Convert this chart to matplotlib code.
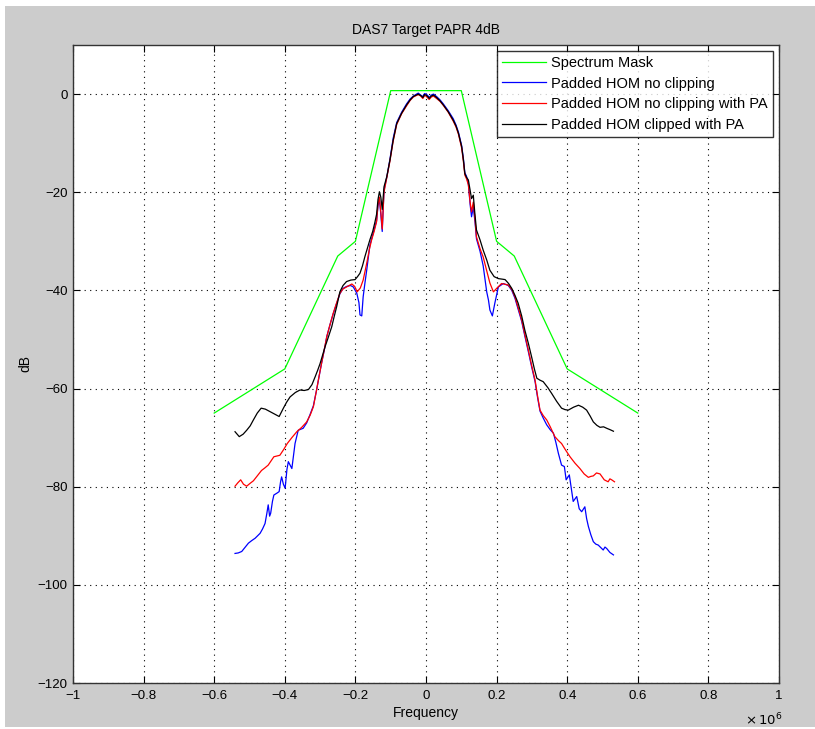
import matplotlib
matplotlib.use("Agg")
import matplotlib.pyplot as plt
from matplotlib.patches import Rectangle
from matplotlib.ticker import FuncFormatter

plt.rcParams['font.family'] = ['Liberation Sans', 'DejaVu Sans']

title = "DAS7 Target PAPR 4dB"
xlabel = "Frequency"
ylabel = "dB"
legend_labels = ["Spectrum Mask", "Padded HOM no clipping",
                 "Padded HOM no clipping with PA", "Padded HOM clipped with PA"]

# frequency in units of 1e6
mask_f = [-0.6, -0.4, -0.25, -0.2, -0.1, 0.1, 0.2, 0.25, 0.4, 0.6]
mask_db = [-65, -56, -33, -30, 0.7, 0.7, -30, -33, -56, -65]

blue_pts = [(-0.541,-93.6),(-0.532,-93.5),(-0.522,-93.2),(-0.512,-92.3),(-0.503,-91.5),(-0.494,-91.0),
 (-0.484,-90.5),(-0.470,-89.5),(-0.463,-88.6),(-0.456,-87.5),(-0.451,-85.5),(-0.447,-83.7),(-0.443,-86.0),
 (-0.440,-85.4),(-0.435,-83.0),(-0.431,-81.7),(-0.422,-81.3),(-0.416,-81.0),(-0.412,-79.0),(-0.409,-78.0),
 (-0.404,-79.5),(-0.399,-80.3),(-0.394,-76.5),(-0.390,-74.9),(-0.385,-75.6),(-0.380,-76.3),(-0.375,-73.5),
 (-0.371,-71.2),(-0.362,-68.5),(-0.348,-68.1),(-0.338,-67.0),(-0.329,-65.4),(-0.319,-63.5),(-0.310,-60.3),
 (-0.303,-57.6),(-0.296,-54.9),(-0.288,-52.1),(-0.281,-49.4),(-0.272,-47.0),(-0.263,-44.8),(-0.253,-42.6),
 (-0.244,-40.7),(-0.235,-39.6),(-0.225,-39.2),(-0.214,-39.0),(-0.206,-39.3),(-0.196,-40.6),(-0.190,-42.5),
 (-0.187,-45.0),(-0.182,-45.2),(-0.178,-41.3),(-0.173,-38.5),(-0.168,-35.9),(-0.159,-30.8),(-0.152,-29.0),
 (-0.146,-27.4),(-0.140,-25.8),(-0.136,-22.8),(-0.132,-21.4),(-0.128,-24.5),(-0.124,-28.0),(-0.119,-19.6),
 (-0.111,-16.9),(-0.102,-13.2),(-0.093,-9.0),(-0.083,-5.8),(-0.069,-3.7),(-0.055,-2.0),(-0.045,-1.0),
 (-0.036,-0.4),(-0.022,0.2),(-0.015,-0.2),(-0.009,-0.5),(-0.004,0.1),(0.0,0.0),(0.005,-0.3),(0.009,-0.7),
 (0.015,-0.2),(0.021,0.0),(0.030,-0.5),(0.040,-1.2),(0.049,-2.0),(0.063,-3.4),(0.077,-5.0),(0.085,-6.3),
 (0.092,-7.8),(0.101,-10.5),(0.106,-13.2),(0.110,-16.0),(0.115,-16.8),(0.120,-18.3),(0.125,-22.5),
 (0.129,-25.0),(0.134,-23.0),(0.139,-26.2),(0.143,-29.5),(0.153,-32.0),(0.162,-35.0),(0.172,-40.3),
 (0.177,-42.0),(0.181,-44.0),(0.188,-45.2),(0.195,-42.6),(0.205,-39.3),(0.219,-38.6),(0.233,-39.0),
 (0.243,-40.0),(0.252,-41.6),(0.261,-43.8),(0.271,-46.3),(0.280,-49.3),(0.290,-52.5),(0.299,-55.5),
 (0.309,-58.6),(0.316,-61.8),(0.323,-64.6),(0.332,-66.0),(0.342,-67.4),(0.352,-68.4),(0.361,-69.1),
 (0.368,-71.0),(0.375,-73.2),(0.384,-75.6),(0.392,-75.9),(0.397,-78.6),(0.406,-77.6),(0.412,-80.5),
 (0.417,-83.0),(0.427,-82.0),(0.434,-84.5),(0.441,-85.1),(0.450,-84.1),(0.455,-86.5),(0.460,-88.1),
 (0.467,-89.8),(0.474,-91.2),(0.481,-91.7),(0.488,-91.9),(0.495,-92.4),(0.502,-92.9),(0.507,-92.3),
 (0.512,-92.6),(0.521,-93.4),(0.531,-93.9)]

red_pts = [(-0.541,-79.9),(-0.533,-79.2),(-0.525,-78.6),(-0.517,-79.5),(-0.508,-79.9),(-0.498,-79.3),
 (-0.489,-78.8),(-0.478,-77.8),(-0.466,-76.7),(-0.457,-76.2),(-0.447,-75.6),(-0.431,-73.9),(-0.414,-73.6),
 (-0.403,-72.4),(-0.393,-71.2),(-0.380,-70.0),(-0.366,-68.8),(-0.352,-67.9),(-0.338,-66.8),(-0.328,-65.4),
 (-0.319,-63.7),(-0.310,-60.3),(-0.303,-57.5),(-0.296,-54.9),(-0.288,-52.0),(-0.281,-49.4),(-0.272,-47.0),
 (-0.263,-44.7),(-0.253,-42.5),(-0.244,-40.6),(-0.235,-39.7),(-0.225,-39.3),(-0.210,-38.7),(-0.202,-39.2),
 (-0.195,-40.3),(-0.186,-39.5),(-0.178,-37.9),(-0.168,-34.5),(-0.160,-31.5),(-0.154,-29.7),(-0.147,-28.0),
 (-0.140,-26.0),(-0.136,-22.5),(-0.132,-21.0),(-0.128,-24.0),(-0.124,-27.5),(-0.119,-20.0),(-0.111,-17.0),
 (-0.102,-13.6),(-0.093,-9.6),(-0.083,-6.2),(-0.069,-4.0),(-0.055,-2.4),(-0.045,-1.3),(-0.036,-0.6),
 (-0.022,-0.1),(-0.015,-0.4),(-0.009,-0.9),(-0.004,-0.3),(0.0,-0.4),(0.005,-0.8),(0.009,-1.1),(0.015,-0.6),
 (0.021,-0.4),(0.030,-0.9),(0.040,-1.5),(0.049,-2.3),(0.063,-3.7),(0.077,-5.5),(0.085,-6.7),(0.092,-8.2),
 (0.101,-11.0),(0.106,-13.8),(0.110,-16.5),(0.115,-17.3),(0.120,-18.5),(0.125,-22.0),(0.129,-24.0),
 (0.134,-22.0),(0.139,-25.7),(0.143,-29.1),(0.153,-31.5),(0.162,-33.2),(0.172,-36.0),(0.181,-38.5),
 (0.191,-40.3),(0.200,-39.6),(0.214,-38.6),(0.233,-38.9),(0.243,-39.8),(0.252,-41.3),(0.261,-43.5),
 (0.271,-46.0),(0.280,-49.0),(0.290,-52.2),(0.299,-55.2),(0.309,-58.3),(0.316,-61.5),(0.323,-64.4),
 (0.332,-65.5),(0.342,-66.4),(0.352,-67.8),(0.365,-69.8),(0.375,-70.6),(0.384,-71.2),(0.396,-72.6),
 (0.408,-73.9),(0.422,-75.2),(0.436,-76.3),(0.448,-77.4),(0.460,-78.1),(0.467,-77.9),(0.474,-77.8),
 (0.483,-77.2),(0.493,-77.4),(0.505,-78.6),(0.516,-79.0),(0.521,-78.4),(0.526,-78.6),(0.534,-79.0)]

black_pts = [(-0.541,-68.8),(-0.529,-69.8),(-0.518,-69.3),(-0.508,-68.5),(-0.498,-67.6),(-0.489,-66.4),
 (-0.478,-65.0),(-0.467,-64.0),(-0.455,-64.2),(-0.442,-64.7),(-0.429,-65.2),(-0.416,-65.7),(-0.404,-64.0),
 (-0.395,-62.8),(-0.385,-61.7),(-0.370,-60.8),(-0.357,-60.3),(-0.345,-60.4),(-0.333,-60.2),(-0.323,-59.2),
 (-0.314,-57.6),(-0.307,-56.3),(-0.300,-54.9),(-0.293,-53.2),(-0.286,-51.5),(-0.277,-49.6),(-0.267,-47.4),
 (-0.260,-45.3),(-0.253,-43.3),(-0.244,-40.3),(-0.235,-39.0),(-0.225,-38.2),(-0.213,-37.9),(-0.201,-37.8),
 (-0.194,-37.2),(-0.187,-36.5),(-0.180,-35.0),(-0.173,-33.1),(-0.166,-31.4),(-0.159,-29.7),(-0.151,-28.0),
 (-0.145,-26.2),(-0.140,-24.5),(-0.136,-21.5),(-0.132,-19.9),(-0.128,-21.0),(-0.124,-23.5),(-0.119,-18.9),
 (-0.111,-16.8),(-0.102,-13.4),(-0.093,-9.4),(-0.083,-6.0),(-0.069,-3.9),(-0.055,-2.2),(-0.045,-1.2),
 (-0.036,-0.5),(-0.022,0.0),(-0.015,-0.3),(-0.009,-0.7),(-0.004,-0.1),(0.0,-0.2),(0.005,-0.5),(0.009,-0.9),
 (0.015,-0.4),(0.021,-0.2),(0.030,-0.7),(0.040,-1.4),(0.049,-2.2),(0.063,-3.6),(0.077,-5.3),(0.085,-6.5),
 (0.092,-8.0),(0.101,-10.7),(0.106,-13.4),(0.110,-16.2),(0.115,-17.0),(0.120,-17.5),(0.125,-19.6),
 (0.129,-21.3),(0.134,-20.6),(0.138,-24.0),(0.143,-27.7),(0.153,-29.7),(0.162,-31.8),(0.172,-33.8),
 (0.181,-35.9),(0.193,-37.2),(0.205,-37.6),(0.215,-37.7),(0.224,-37.8),(0.234,-38.6),(0.243,-39.6),
 (0.252,-41.0),(0.261,-42.6),(0.271,-45.2),(0.280,-48.1),(0.290,-50.8),(0.299,-53.5),(0.307,-56.0),
 (0.314,-57.9),(0.323,-58.3),(0.332,-58.6),(0.345,-59.8),(0.356,-61.0),(0.370,-62.6),(0.384,-64.0),
 (0.394,-64.3),(0.403,-64.4),(0.418,-63.8),(0.432,-63.4),(0.444,-63.8),(0.455,-64.4),(0.465,-65.6),
 (0.474,-66.8),(0.484,-67.5),(0.493,-67.9),(0.503,-67.8),(0.512,-68.1),(0.522,-68.4),(0.531,-68.7)]

xticks = [-1, -0.8, -0.6, -0.4, -0.2, 0, 0.2, 0.4, 0.6, 0.8, 1]
yticks = [-120, -100, -80, -60, -40, -20, 0]

W, H = 815, 729
fig = plt.figure(figsize=(W / 100, H / 100), dpi=100, facecolor='white')
fig.patches.append(Rectangle((5 / W, 2 / H), 1 - 5 / W, 1 - 8 / H, transform=fig.transFigure,
                             facecolor='#cccccc', edgecolor='none', zorder=-10))
ax = fig.add_axes([73 / W, 1 - 683 / H, (779 - 73) / W, (683 - 45) / H])
ax.set_facecolor('white')

lw = 0.9
ax.plot(mask_f, mask_db, color=(0, 1, 0), lw=lw, label=legend_labels[0])
for pts, col, lab in [(blue_pts, (0, 0, 1), legend_labels[1]),
                      (red_pts, (1, 0, 0), legend_labels[2]),
                      (black_pts, (0, 0, 0), legend_labels[3])]:
    fx = [p[0] for p in pts]
    fy = [p[1] for p in pts]
    ax.plot(fx, fy, color=col, lw=lw, label=lab)

ax.set_xlim(-1, 1)
ax.set_ylim(-120, 10)
ax.set_xticks(xticks)
ax.set_yticks(yticks)
fmt = FuncFormatter(lambda v, p: f"{v:g}".replace('-', '\u2212'))
ax.xaxis.set_major_formatter(fmt)
ax.yaxis.set_major_formatter(fmt)
ax.tick_params(direction='in', top=True, right=True, labelsize=9.5, length=5, width=0.8)
ax.tick_params(axis='x', pad=5)
ax.tick_params(axis='y', pad=4)
ax.grid(True, color='black', linestyle=(0, (1, 4)), linewidth=0.8)
for s in ax.spines.values():
    s.set_linewidth(1.0)
    s.set_color('#333333')

ax.set_title(title, fontsize=10, pad=8)
ax.set_xlabel(xlabel, fontsize=10, labelpad=3)
ax.set_ylabel(ylabel, fontsize=10, labelpad=4)
fig.text(745 / W, 1 - 720 / H, r"$\times\,10^{6}$", fontsize=9.5, ha='left', va='center')

leg = ax.legend(loc='upper right', fontsize=10.5, frameon=True, fancybox=False,
                borderaxespad=0.4, handlelength=3.0, labelspacing=0.45, borderpad=0.35,
                handletextpad=0.4)
leg.get_frame().set_edgecolor('black')
leg.get_frame().set_linewidth(1.0)

fig.savefig("out.png", dpi=100, facecolor=fig.get_facecolor())
